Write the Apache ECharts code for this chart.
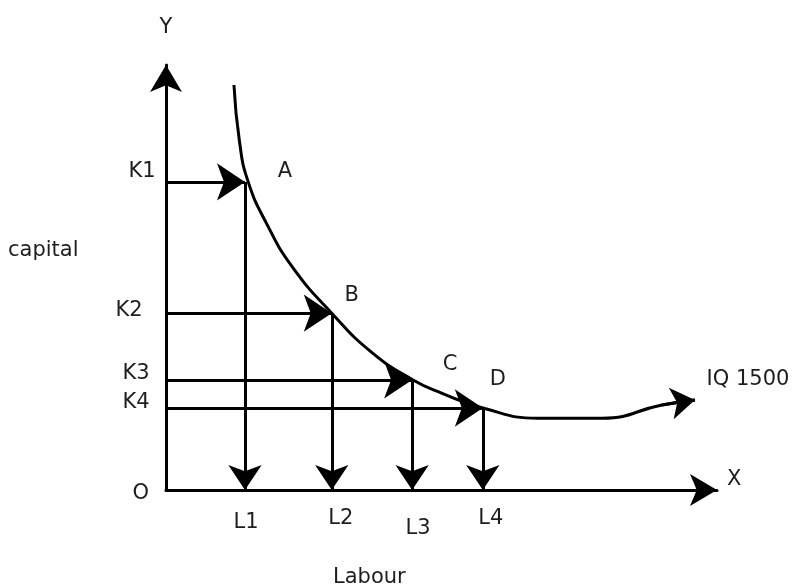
<!DOCTYPE html>
<html>
<head>
<meta charset="utf-8">
<script src="https://cdn.jsdelivr.net/npm/echarts@6/dist/echarts.min.js"></script>
<style>
  html, body { margin: 0; background: #fff; }
  #chart { width: 800px; height: 588px; }
</style>
</head>
<body>
<div id="chart"></div>
<script>
// isoquant IQ 1500 (labour on x, capital on y)
var curveLabour  = [1.48, 1.60, 1.79, 2.20, 2.75, 3.61, 4.50, 5.38, 6.00, 6.90, 8.10, 9.50, 10.80, 11.52];
var curveCapital = [9.53, 8.20, 7.25, 6.25, 5.25, 4.16, 3.22, 2.59, 2.28, 1.93, 1.69, 1.69, 2.00, 2.12];
var curveName = 'IQ 1500';

// the four combinations on the curve
var pointNames = ['A', 'B', 'C', 'D'];
var kNames = ['K1', 'K2', 'K3', 'K4'];
var lNames = ['L1', 'L2', 'L3', 'L4'];
var labourAt  = [1.72, 3.61, 5.36, 6.90];
var capitalAt = [7.25, 4.16, 2.59, 1.93];

// label nudges in px, relative to the point they belong to
var kOffsets = [[-24, -10], [-37, -3], [-30, -6], [-30, -5]];
var lOffsets = [[1, 33], [9, 29], [6, 39], [8, 29]];
var pOffsets = [[40, -10], [20, -18], [38, -15], [15, -28]];

var FONT = 'DejaVu Sans';
var INK = '#000';
var TEXT = '#1e1e1e';

var chart = echarts.init(document.getElementById('chart'));

var curve = curveLabour.map(function (x, i) { return [x, curveCapital[i]]; });
var n = curve.length;

var kArrows = [], lArrows = [], labels = [];
labourAt.forEach(function (x, i) {
  var y = capitalAt[i];
  kArrows.push({ coords: [[0, y], [x, y]] });
  lArrows.push({ coords: [[x, y], [x, 0]] });
  labels.push({ value: [0, y], label: { formatter: kNames[i], offset: kOffsets[i] } });
  labels.push({ value: [x, 0], label: { formatter: lNames[i], offset: lOffsets[i] } });
  labels.push({ value: [x, y], label: { formatter: pointNames[i], offset: pOffsets[i] } });
});
labels.push({ value: curve[n - 1], label: { formatter: curveName, offset: [53, -20] } });

function arrowAxis(name) {
  return {
    type: 'value',
    min: 0,
    name: name,
    axisLine: {
      show: true,
      onZero: false,
      symbol: ['none', 'arrow'],
      symbolSize: [24, 27],
      lineStyle: { color: INK, width: 3 }
    },
    axisTick: { show: false },
    splitLine: { show: false },
    nameTextStyle: { fontFamily: FONT, fontSize: 21, color: TEXT }
  };
}

var xAxis = arrowAxis('X');
xAxis.max = 12;
xAxis.nameGap = 10;
xAxis.nameTextStyle.verticalAlign = 'bottom';
xAxis.nameTextStyle.lineHeight = 21;
xAxis.axisLabel = { show: false };

var yAxis = arrowAxis('Y');
yAxis.max = 10;
yAxis.nameGap = 27;
yAxis.axisLabel = {
  fontFamily: FONT, fontSize: 21, color: TEXT, margin: 17,
  lineHeight: 27, verticalAlign: 'top', padding: [-10, 0, 0, 0],
  formatter: function (v) { return v === 0 ? 'O' : ''; }
};

var option = {
  animation: false,
  backgroundColor: '#fff',
  grid: { left: 166, right: 83, top: 65, bottom: 98, containLabel: false },
  xAxis: xAxis,
  yAxis: yAxis,
  graphic: [
    { type: 'text', left: 8, top: 240, style: { text: 'capital', font: '21px "DejaVu Sans"', fill: TEXT } },
    { type: 'text', left: 333, top: 567, style: { text: 'Labour', font: '21px "DejaVu Sans"', fill: TEXT } }
  ],
  series: [
    {
      name: curveName,
      type: 'line',
      data: curve,
      smooth: 0.5,
      showSymbol: false,
      lineStyle: { color: INK, width: 3 }
    },
    {
      type: 'lines',
      coordinateSystem: 'cartesian2d',
      data: [{ coords: [curve[n - 2], curve[n - 1]] }],
      symbol: ['none', 'arrow'],
      symbolSize: [22, 24],
      lineStyle: { color: INK, width: 3, opacity: 1 }
    },
    {
      type: 'lines',
      coordinateSystem: 'cartesian2d',
      data: kArrows,
      symbol: ['none', 'arrow'],
      symbolSize: [26, 28],
      lineStyle: { color: INK, width: 3, opacity: 1 }
    },
    {
      type: 'lines',
      coordinateSystem: 'cartesian2d',
      data: lArrows,
      symbol: ['none', 'arrow'],
      symbolSize: [25, 25],
      lineStyle: { color: INK, width: 3, opacity: 1 }
    },
    {
      type: 'scatter',
      data: labels,
      symbolSize: 1,
      silent: true,
      itemStyle: { color: 'rgba(0,0,0,0)', opacity: 1 },
      label: {
        show: true,
        position: 'inside',
        fontFamily: FONT,
        fontSize: 21,
        color: TEXT
      }
    }
  ]
};

chart.setOption(option);
</script>
</body>
</html>
